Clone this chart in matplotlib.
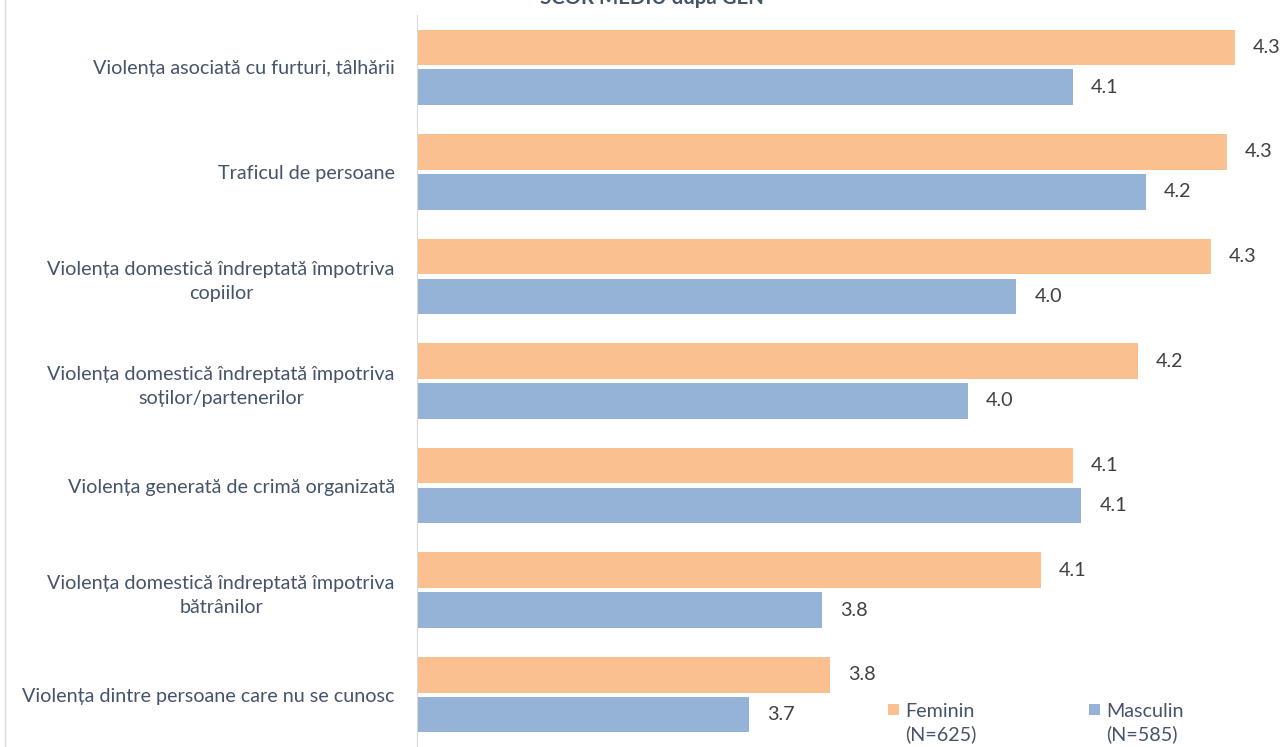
import matplotlib
matplotlib.use('Agg')
import matplotlib.pyplot as plt
from matplotlib.lines import Line2D
from matplotlib.patches import Rectangle
import numpy as np

categorii = [
    "Violența asociată cu furturi, tâlhării",
    "Traficul de persoane",
    "Violența domestică îndreptată împotriva\ncopiilor",
    "Violența domestică îndreptată împotriva\nsoților/partenerilor",
    "Violența generată de crimă organizată",
    "Violența domestică îndreptată împotriva\nbătrânilor",
    "Violența dintre persoane care nu se cunosc",
]
feminin = [4.31, 4.30, 4.28, 4.19, 4.11, 4.07, 3.81]
masculin = [4.11, 4.20, 4.04, 3.98, 4.12, 3.80, 3.71]
etichete_legenda = ["Feminin\n(N=625)", "Masculin\n(N=585)"]
titlu = "SCOR MEDIU după GEN"

col_f = '#FAC090'
col_m = '#95B3D7'
col_text = '#44546A'
fs = 14.2

plt.rcParams['font.family'] = ['Lato', 'DejaVu Sans']

W, H = 1284, 747
fig = plt.figure(figsize=(W / 100, H / 100), dpi=100)
ax = fig.add_axes([417 / W, 0, 1 - 417 / W, 732 / H])

y = np.arange(len(categorii))
h = 0.34
off = 0.19
bars_f = ax.barh(y - off, feminin, h, color=col_f)
bars_m = ax.barh(y + off, masculin, h, color=col_m)

for bars, vals in [(bars_f, feminin), (bars_m, masculin)]:
    for b, v in zip(bars, vals):
        ax.annotate(f"{v:.1f}", (b.get_width(), b.get_y() + b.get_height() / 2),
                    xytext=(13, 0), textcoords='offset points', va='center',
                    ha='left', fontsize=fs, color='#404040')

ax.set_xlim(3.3, 3.3 + 867 / 810)
ax.set_ylim(6.5, -0.5)
ax.set_yticks(y)
ax.set_yticklabels(categorii, fontsize=fs, color=col_text,
                   multialignment='center', linespacing=1.5)
ax.tick_params(axis='y', length=0, pad=16)
ax.set_xticks([])
for s in ['top', 'right', 'bottom']:
    ax.spines[s].set_visible(False)
ax.spines['left'].set_color('#D9D9D9')

# legenda desenata manual (marcajul aliniat cu primul rand)
for (xm, culoare, text) in [(888, col_f, etichete_legenda[0]),
                            (1089, col_m, etichete_legenda[1])]:
    fig.add_artist(Rectangle((xm / W, 1 - 715 / H), 11 / W, 11 / H,
                             transform=fig.transFigure, color=culoare, lw=0))
    fig.text((xm + 17) / W, 1 - 740 / H, text, ha='left', va='baseline',
             fontsize=fs, color=col_text, linespacing=1.35)

fig.text(652 / W, 1 - 4 / H, titlu, ha='center', va='baseline',
         fontsize=14.7, fontweight='bold', color=col_text)
fig.add_artist(Line2D([5 / W, 5 / W], [0, 1], color='#D9D9D9', lw=1))

fig.savefig('out.png', dpi=100)
